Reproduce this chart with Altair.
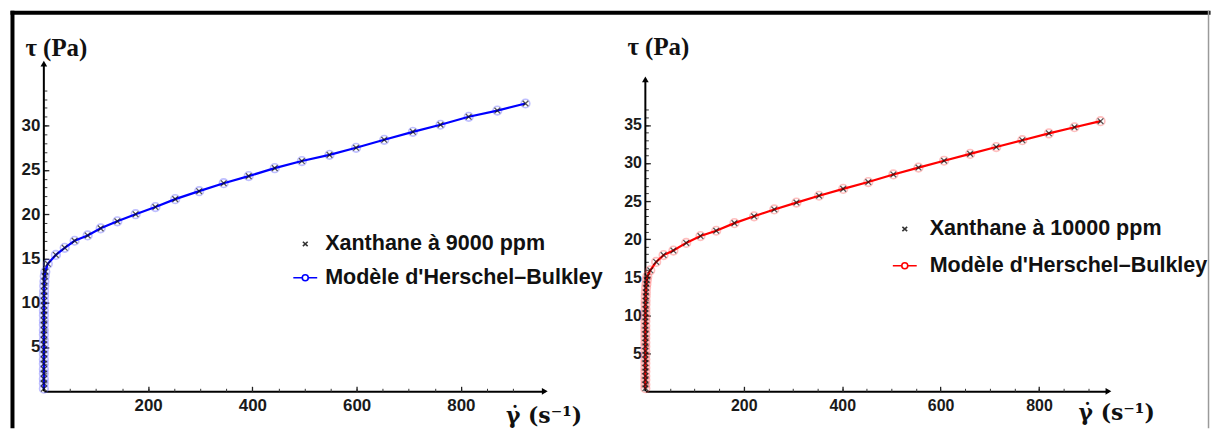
import altair as alt
import pandas as pd

# ---------------- data ----------------
# Left panel : Xanthane 9000 ppm  (gamma_dot in s^-1, tau in Pa)
gamma_9000 = [0.0, 0.0, 0.0, 0.0, 0.0, 0.0, 0.0, 0.01, 0.01, 0.01, 0.02, 0.02, 0.03,
              0.04, 0.05, 0.07, 0.1, 0.14, 0.2, 0.3, 0.45, 0.7, 1.1, 1.7, 2.8,
              7.6, 23, 40, 59, 84, 109, 141, 176, 214, 252, 298, 345, 393, 443,
              495, 548, 599, 653, 708, 761, 815, 870, 924]
tau_9000 = [0.3, 0.9, 1.4, 2.0, 2.5, 3.1, 3.6, 4.2, 4.7, 5.3, 5.8, 6.4, 6.9,
            7.5, 8.0, 8.6, 9.1, 9.7, 10.2, 10.8, 11.3, 11.9, 12.4, 13.0, 13.5,
            14.4, 15.4, 16.2, 17.0, 17.6, 18.4, 19.2, 20.0, 20.8, 21.7, 22.6, 23.5, 24.3, 25.2,
            26.0, 26.7, 27.5, 28.4, 29.3, 30.1, 31.0, 31.7, 32.5]

# Right panel : Xanthane 10000 ppm
gamma_10000 = [0.0, 0.0, 0.0, 0.0, 0.0, 0.0, 0.0, 0.0, 0.01, 0.01, 0.01, 0.02, 0.02,
               0.03, 0.04, 0.05, 0.07, 0.1, 0.14, 0.2, 0.3, 0.45, 0.7, 1.0, 1.5, 2.2, 3.0,
               4, 10, 22, 37, 57, 83, 112, 144, 181, 221, 262, 307, 353, 402, 453,
               504, 555, 607, 660, 713, 766, 820, 872, 925]
tau_10000 = [0.4, 0.9, 1.5, 2.0, 2.6, 3.1, 3.7, 4.2, 4.8, 5.3, 5.9, 6.4, 7.0,
             7.5, 8.1, 8.6, 9.2, 9.7, 10.3, 10.8, 11.4, 11.9, 12.5, 13.0, 13.6, 14.1, 14.6,
             15.1, 15.9, 17.0, 17.9, 18.5, 19.5, 20.4, 21.1, 22.1, 23.0, 23.9, 24.8, 25.7, 26.6, 27.5,
             28.5, 29.4, 30.3, 31.2, 32.1, 33.0, 33.9, 34.7, 35.5]

series_left = ["Xanthane à 9000 ppm", "Modèle d'Herschel–Bulkley"]
series_right = ["Xanthane à 10000 ppm", "Modèle d'Herschel–Bulkley"]

x_labels = [200, 400, 600, 800]
x_minor = [50, 100, 150, 200, 250, 300, 350, 400, 450, 500, 550, 600, 650, 700, 750, 800, 850, 900]
y_labels_left = [5, 10, 15, 20, 25, 30]
y_labels_right = [5, 10, 15, 20, 25, 30, 35]
y_minor_left = list(range(1, 35))
y_minor_right = list(range(1, 38))

y_title = "τ (Pa)"
x_title = "γ̇ (s⁻¹)"

# ---------------- styling ----------------
X_PATH = "M-1,-1L1,1M-1,1L1,-1"
LEG_X_PATH = "M-0.2,-0.18L0.2,0.18M-0.2,0.18L0.2,-0.18"
LEG_LINE_PATH = ("M-1,0L-0.25,0M0.25,0L1,0M-0.25,0A0.25,0.25 0 1 1 0.25,0"
                 "A0.25,0.25 0 1 1 -0.25,0")

H = 329


def panel(gamma, tau, series, line_color, circle_color, xmax, ymax, ytop, width,
          y_labels, y_minor, label_size, leg_x, leg_y, leg_row, leg_off,
          ytx, yty, xtx, xty, frame=False):
    df = pd.DataFrame({"gamma": gamma, "tau": tau, "idx": list(range(len(gamma)))})
    xs = alt.Scale(domain=[0, xmax], nice=False, zero=False)
    ys = alt.Scale(domain=[0, ymax], nice=False, zero=False)

    base = alt.Chart(df)

    x_lab_axis = alt.Axis(values=x_labels, ticks=False, grid=False, domain=True,
                          domainColor="black", domainWidth=2,
                          labelFont="Liberation Sans", labelFontWeight="bold",
                          labelFontSize=label_size, labelColor="#1a1a1a", labelPadding=6,
                          title=x_title, titleAngle=0, titleX=xtx, titleY=xty,
                          titleAlign="left", titleBaseline="alphabetic",
                          titleFont="DejaVu Serif", titleFontWeight="bold",
                          titleFontSize=22, titleColor="#111111")
    y_lab_axis = alt.Axis(values=y_labels, ticks=False, grid=False, domain=False,
                          labelFont="Liberation Sans", labelFontWeight="bold",
                          labelFontSize=label_size, labelColor="#1a1a1a", labelPadding=4,
                          title=y_title, titleAngle=0, titleX=ytx, titleY=yty,
                          titleAlign="left", titleBaseline="alphabetic",
                          titleFont="Liberation Serif", titleFontWeight="bold",
                          titleFontSize=25, titleColor="#111111")
    x_minor_axis = alt.Axis(orient="top", offset=-H, values=x_minor, labels=False,
                            domain=False, grid=False, ticks=True, tickSize=3,
                            tickColor="#333333", tickWidth=1, title=None)
    y_minor_axis = alt.Axis(orient="right", offset=-width, values=y_minor, labels=False,
                            domain=False, grid=False, ticks=True, tickSize=3,
                            tickColor="#333333", tickWidth=1, title=None)
    x_major_axis = alt.Axis(orient="top", offset=-H, values=x_labels, labels=False,
                            domain=False, grid=False, ticks=True, tickSize=5,
                            tickColor="#222222", tickWidth=1.3, title=None)
    y_major_axis = alt.Axis(orient="right", offset=-width, values=y_labels, labels=False,
                            domain=False, grid=False, ticks=True, tickSize=5,
                            tickColor="#222222", tickWidth=1.3, title=None)

    circles = base.mark_point(shape="circle", filled=False, size=75, strokeWidth=1.6,
                              color=circle_color).encode(
        x=alt.X("gamma:Q", scale=xs, axis=x_lab_axis),
        y=alt.Y("tau:Q", scale=ys, axis=y_lab_axis),
    )
    line = base.mark_line(color=line_color, strokeWidth=2.2).encode(
        x=alt.X("gamma:Q", scale=xs, axis=x_minor_axis),
        y=alt.Y("tau:Q", scale=ys, axis=y_minor_axis),
        order="idx:Q",
    )
    crosses = base.mark_point(shape=X_PATH, filled=False, size=32, strokeWidth=1.3,
                              color="#111111").encode(
        x=alt.X("gamma:Q", scale=xs, axis=x_major_axis),
        y=alt.Y("tau:Q", scale=ys, axis=y_major_axis),
    )

    one = alt.Chart(pd.DataFrame({"k": [0]}))
    y_axis_line = one.mark_rule(color="black", strokeWidth=2).encode(
        x=alt.XDatum(0, axis=None), y=alt.YDatum(0, axis=None), y2=alt.Y2Datum(ytop))
    x_arrow = one.mark_point(shape="triangle-right", filled=True, size=45,
                             color="black", opacity=1).encode(
        x=alt.XDatum(xmax, axis=None), y=alt.YDatum(0, axis=None))
    y_arrow = one.mark_point(shape="triangle-up", filled=True, size=45,
                             color="black", opacity=1).encode(
        x=alt.XDatum(0, axis=None), y=alt.YDatum(ytop, axis=None))

    leg = alt.Legend(orient="none", legendX=leg_x, legendY=leg_y, title=None,
                     labelFont="Liberation Sans", labelFontWeight="bold", labelFontSize=21.6,
                     labelColor="#111111", symbolSize=576, symbolStrokeWidth=1.6,
                     symbolOpacity=1, rowPadding=leg_row, labelOffset=leg_off,
                     padding=0, offset=0, labelLimit=400)
    legend_df = pd.DataFrame({"series": series})
    legend_layer = alt.Chart(legend_df).transform_filter("false").mark_point(
        filled=False).encode(
        x=alt.XDatum(0, axis=None), y=alt.YDatum(0, axis=None),
        color=alt.Color("series:N", scale=alt.Scale(domain=series,
                                                     range=["#333333", line_color]),
                        legend=leg),
        shape=alt.Shape("series:N", scale=alt.Scale(domain=series,
                                                     range=[LEG_X_PATH, LEG_LINE_PATH]),
                        legend=leg),
    )

    layers = [y_axis_line, x_arrow, y_arrow, circles, line, crosses, legend_layer]
    if frame:
        fr_top = one.mark_rule(color="black", strokeWidth=4).encode(
            x=alt.value(-33.5), x2=alt.value(1171.5), y=alt.value(-51))
        fr_left = one.mark_rule(color="black", strokeWidth=4).encode(
            x=alt.value(-31.5), y=alt.value(-53), y2=alt.value(366))
        fr_right = one.mark_rule(color="#9a9a9a", strokeWidth=1.5).encode(
            x=alt.value(1169.5), y=alt.value(-53), y2=alt.value(366))
        layers = [fr_top, fr_left, fr_right] + layers

    return alt.layer(*layers).properties(width=width, height=H).resolve_axis(
        x="independent", y="independent")


left = panel(gamma_9000, tau_9000, series_left, "#0000ff", "rgba(90,90,255,0.55)",
             xmax=961, ymax=37.0, ytop=37.0, width=503,
             y_labels=y_labels_left, y_minor=y_minor_left, label_size=17,
             leg_x=249.5, leg_y=168, leg_row=10, leg_off=7,
             ytx=-19, yty=-8, xtx=463.5, xty=31, frame=True)
right = panel(gamma_10000, tau_10000, series_right, "#ff0000", "rgba(255,90,90,0.55)",
              xmax=941, ymax=43.06, ytop=41.0, width=465,
              y_labels=y_labels_right, y_minor=y_minor_right, label_size=16,
              leg_x=247.5, leg_y=153, leg_row=13, leg_off=12,
              ytx=-18.5, yty=-9, xtx=434.5, xty=28)

chart = alt.hconcat(left, right, spacing=101, bounds="flush").resolve_scale(
    x="independent", y="independent", color="independent", shape="independent"
).resolve_legend(color="independent", shape="independent").properties(
    padding=0, background="white"
).configure_view(stroke=None)

chart.save("out.html", embed_options={"renderer": "svg", "actions": False})
